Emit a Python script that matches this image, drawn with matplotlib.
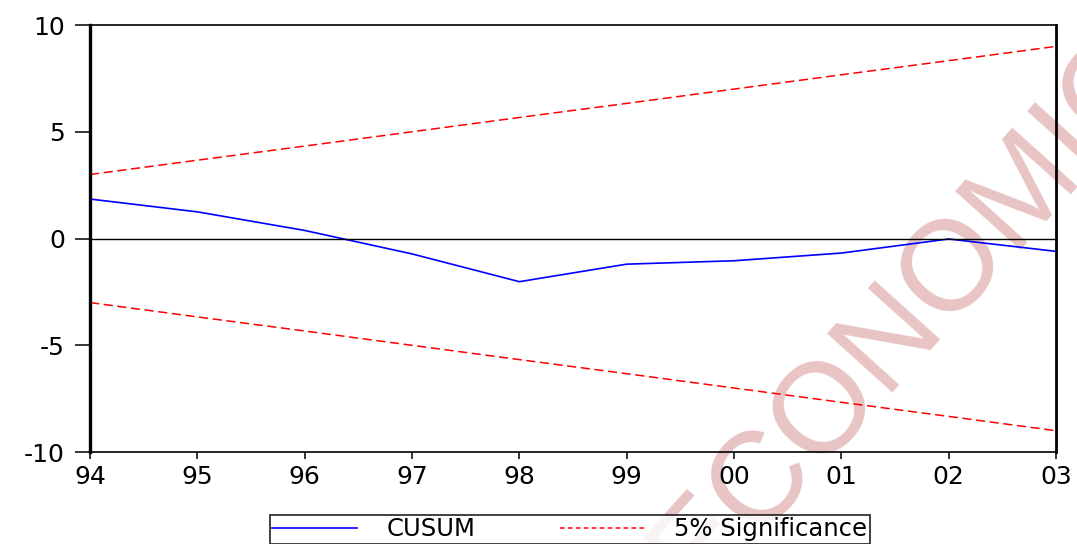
import matplotlib
matplotlib.use("Agg")
import matplotlib.pyplot as plt
from matplotlib.lines import Line2D

# CUSUM test output, yearly 1994-2003
years = ["94", "95", "96", "97", "98", "99", "00", "01", "02", "03"]
cusum = [1.85, 1.25, 0.38, -0.72, -2.02, -1.2, -1.04, -0.68, -0.02, -0.6]
upper = [3.0, 3.67, 4.33, 5.0, 5.67, 6.33, 7.0, 7.67, 8.33, 9.0]
lower = [-3.0, -3.67, -4.33, -5.0, -5.67, -6.33, -7.0, -7.67, -8.33, -9.0]

plt.rcParams["font.family"] = "DejaVu Sans"

fig = plt.figure(figsize=(10.77, 5.44), dpi=100)
ax = fig.add_axes([0.0836, 0.169, 0.8969, 0.785])
ax.set_facecolor("none")

x = list(range(len(years)))
ax.plot(x, cusum, color="#0000ff", lw=1.2)
ax.plot(x, upper, color="#ff0000", lw=1.1, dashes=(6, 3))
ax.plot(x, lower, color="#ff0000", lw=1.1, dashes=(6, 3))
ax.axhline(0, color="black", lw=1.0)

ax.set_xlim(0, 9)
ax.set_ylim(-10, 10)
ax.set_xticks(x)
ax.set_xticklabels(years)
ax.set_yticks([-10, -5, 0, 5, 10])
ax.set_yticklabels(["-10", "-5", "0", "5", "10"])
ax.tick_params(axis="y", direction="out", length=11, width=1.1, pad=7, labelsize=18)
ax.tick_params(axis="x", direction="out", length=5, width=1.1, pad=4, labelsize=18)

ax.spines["left"].set_linewidth(2.4)
ax.spines["right"].set_linewidth(2.0)
ax.spines["top"].set_linewidth(1.2)
ax.spines["bottom"].set_linewidth(1.2)

# watermark behind the plot
fig.text(0.870, 0.480, "ECONOMICS", rotation=48, rotation_mode="anchor",
         ha="center", va="center", fontsize=92, color="#e8c4c4",
         family="Liberation Sans", zorder=-1)

handles = [Line2D([], [], color="#0000ff", lw=1.2),
           Line2D([], [], color="#ff0000", lw=1.1, dashes=(3, 2.2))]
leg = fig.legend(handles, ["CUSUM", "5% Significance"], ncol=2,
                 loc="upper center", bbox_to_anchor=(0.529, 0.0535),
                 borderaxespad=0, fontsize=17.5, frameon=True, fancybox=False,
                 handlelength=3.5, handletextpad=1.2, columnspacing=3.5,
                 borderpad=0.1)
leg.get_frame().set_edgecolor("black")
leg.get_frame().set_linewidth(1.3)

fig.savefig("out.png", dpi=100)
